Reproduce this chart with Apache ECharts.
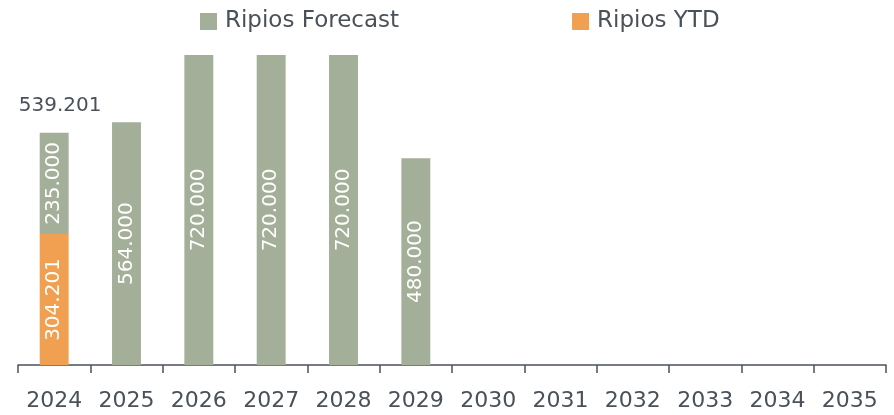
<!DOCTYPE html>
<html>
<head>
<meta charset="utf-8">
<script src="https://cdn.jsdelivr.net/npm/echarts@6/dist/echarts.min.js"></script>
<style>
  html, body { margin: 0; padding: 0; background: #fff; }
  #chart { width: 894px; height: 415px; }
</style>
</head>
<body>
<div id="chart"></div>
<script>
// Years on the category axis
const years = ['2024', '2025', '2026', '2027', '2028', '2029', '2030', '2031', '2032', '2033', '2034', '2035'];
// Year-to-date volume (only 2024 so far)
const ytdValues = [304201, null, null, null, null, null, null, null, null, null, null, null];
// Forecast volume per year
const forecastValues = [235000, 564000, 720000, 720000, 720000, 480000, null, null, null, null, null, null];

const textColor = '#4a5159';
const fontFamily = 'DejaVu Sans';

// Thousands separator as a dot: 539201 -> "539.201"
function fmt(v) {
  return String(Math.round(v)).replace(/\B(?=(\d{3})+(?!\d))/g, '.');
}

// Stack total shown above each stacked bar that has a YTD part
const totals = years.map((_, i) =>
  ytdValues[i] != null ? ytdValues[i] + (forecastValues[i] || 0) : null);

const insideLabel = {
  show: true,
  position: 'inside',
  rotate: 90,
  color: '#ffffff',
  fontSize: 20,
  fontFamily: fontFamily,
  formatter: p => fmt(p.value)
};

const chart = echarts.init(document.getElementById('chart'), null, { renderer: 'canvas' });
chart.setOption({
  animation: false,
  legend: {
    data: ['Ripios Forecast', 'Ripios YTD'],
    left: 195,
    top: 5,
    itemWidth: 17,
    itemHeight: 17,
    itemGap: 173,
    icon: 'rect',
    textStyle: { color: textColor, fontSize: 23, fontFamily: fontFamily, padding: [0, 0, 0, 3] }
  },
  grid: { left: 18, right: 8, top: 55, bottom: 50, containLabel: false },
  xAxis: {
    type: 'category',
    data: years,
    boundaryGap: true,
    axisLine: { lineStyle: { color: textColor, width: 1.5 } },
    axisTick: { show: true, length: 8, interval: 0, lineStyle: { color: textColor, width: 1.5 } },
    axisLabel: { color: textColor, fontSize: 22, fontFamily: fontFamily, margin: 25, interval: 0 }
  },
  yAxis: {
    type: 'value',
    min: 0,
    max: 720000,
    show: false,
    splitLine: { show: false }
  },
  series: [
    {
      name: 'Ripios YTD',
      type: 'bar',
      stack: 'ripios',
      barWidth: '40%',
      itemStyle: { color: '#f0a050' },
      label: insideLabel,
      data: ytdValues
    },
    {
      name: 'Ripios Forecast',
      type: 'bar',
      stack: 'ripios',
      barWidth: '40%',
      itemStyle: { color: '#a4af99' },
      label: insideLabel,
      data: forecastValues
    },
    {
      name: 'Total',
      type: 'bar',
      stack: 'ripios',
      barWidth: '40%',
      itemStyle: { color: 'transparent' },
      label: {
        show: true,
        position: 'top',
        distance: 17,
        offset: [6, 0],
        color: textColor,
        fontSize: 20,
        fontFamily: fontFamily,
        formatter: p => fmt(totals[p.dataIndex])
      },
      data: totals.map(t => (t != null ? 0 : null))
    }
  ]
});
</script>
</body>
</html>
